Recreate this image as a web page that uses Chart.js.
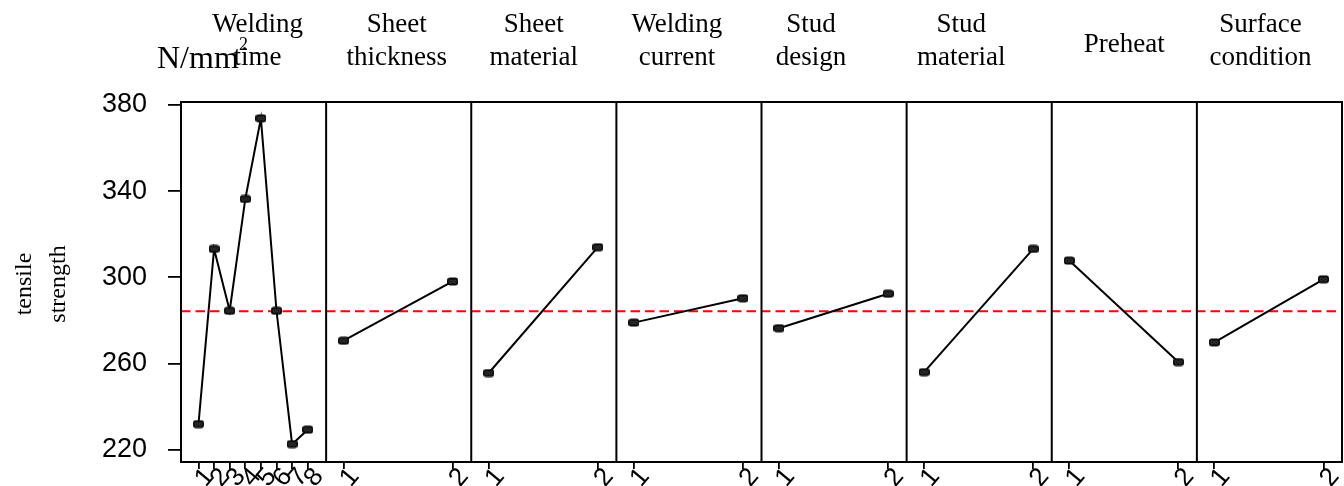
<!DOCTYPE html>
<html><head><meta charset="utf-8">
<script src="https://cdn.jsdelivr.net/npm/chart.js@4.4.1/dist/chart.umd.min.js"></script>
<style>html,body{margin:0;padding:0;background:#fff;}#wrap{width:1344px;height:486px;position:relative;overflow:hidden;}</style>
</head><body><div id="wrap"><canvas id="c" width="1344" height="486"></canvas></div>
<script>
// ---- data ----
const factorTitles = [['Welding','time'],['Sheet','thickness'],['Sheet','material'],['Welding','current'],['Stud','design'],['Stud','material'],['Preheat'],['Surface','condition']];
const weldingTimeLevels = ['1','2','3','4','5','6','7','8'];
const twoLevels = ['1','2'];
const weldingTime = [231.9, 313.2, 284.5, 336.4, 373.8, 284.5, 222.6, 229.3];
const sheetThickness = [270.6, 298.1];
const sheetMaterial = [255.6, 314.0];
const weldingCurrent = [279.0, 290.3];
const studDesign = [276.4, 292.4];
const studMaterial = [256.0, 313.2];
const preheat = [307.8, 260.7];
const surfaceCondition = [269.8, 299.1];
const grandMean = 284.3;
const yTickValues = [220, 260, 300, 340, 380];
const yAxisTitle = ['tensile', 'strength'];
const unitLabel = 'N/mm';
const unitSup = '2';

const seriesValues = [weldingTime, sheetThickness, sheetMaterial, weldingCurrent, studDesign, studMaterial, preheat, surfaceCondition];
const seriesLevels = [weldingTimeLevels, twoLevels, twoLevels, twoLevels, twoLevels, twoLevels, twoLevels, twoLevels];

// ---- style ----
const titleShift = [4, -2, -10, -12, -23, -18, 0, -9];
const marker = document.createElement('canvas');
marker.width = 11; marker.height = 9;
(function(){
  const m = marker.getContext('2d');
  m.fillStyle = '#0d0d0d';
  m.beginPath();
  if (m.roundRect) m.roundRect(0, 0.5, 11, 8, 3); else m.rect(0,0.5,11,8);
  m.fill();
  m.strokeStyle = '#555'; m.lineWidth = 0.7;
  m.beginPath(); m.arc(3.6, 4.5, 1.5, 0, Math.PI*2); m.stroke();
  m.beginPath(); m.arc(7.4, 4.5, 1.5, 0, Math.PI*2); m.stroke();
})();

const scales = {
  y: {
    type: 'linear', position: 'left', min: 214.3, max: 381.4,
    afterBuildTicks: s => { s.ticks = yTickValues.map(v => ({value: v})); },
    ticks: {padding: 21, color: '#000', font: {family: 'Liberation Sans', size: 27}},
    grid: {display: true, drawOnChartArea: false, drawTicks: true, tickLength: 13, color: '#000', lineWidth: 1.8},
    border: {display: false},
    afterFit: s => { s.width = 181; s.paddingTop = 0; s.paddingBottom = 0; }
  }
};
seriesLevels.forEach((lv, i) => {
  scales['x' + i] = {
    type: 'linear', axis: 'x', position: 'bottom', stack: 'panels', stackWeight: 1,
    min: i === 0 ? -0.12 : 0.84, max: i === 0 ? 9.18 : 2.17,
    afterBuildTicks: s => { s.ticks = lv.map((l, k) => ({value: k + 1})); },
    ticks: {
      autoSkip: false, minRotation: 50, maxRotation: 50, labelOffset: 11, padding: -1,
      color: '#000', font: {family: 'Liberation Sans', size: 26, lineHeight: 0.5},
      callback: (v, idx) => lv[idx]
    },
    grid: {display: true, drawOnChartArea: false, drawTicks: true, tickLength: 7, color: '#000', lineWidth: 1.8},
    border: {display: false},
    afterFit: s => { s.height = 24; s.paddingLeft = 0; s.paddingRight = 0; }
  };
});

const datasets = seriesValues.map((vals, i) => ({
  data: vals.map((v, k) => ({x: k + 1, y: v})),
  xAxisID: 'x' + i, yAxisID: 'y',
  borderColor: '#000', borderWidth: 2, fill: false, tension: 0,
  pointStyle: marker, pointRadius: 1, pointHoverRadius: 0, pointBorderWidth: 0,
  clip: 10
}));

const panelPlugin = {
  id: 'panels',
  beforeDatasetsDraw(chart) {
    const {ctx, chartArea: a} = chart;
    const y = chart.scales.y.getPixelForValue(grandMean);
    ctx.save();
    ctx.strokeStyle = '#ff0000'; ctx.lineWidth = 2; ctx.setLineDash([9.5, 5]);
    ctx.beginPath(); ctx.moveTo(a.left, y); ctx.lineTo(a.right, y); ctx.stroke();
    ctx.restore();
  },
  afterDatasetsDraw(chart) {
    const {ctx, chartArea: a} = chart;
    ctx.save();
    ctx.strokeStyle = '#000';
    ctx.lineWidth = 2;
    for (let i = 1; i < seriesValues.length; i++) {
      const x = chart.scales['x' + i].left;
      ctx.beginPath(); ctx.moveTo(x, a.top); ctx.lineTo(x, a.bottom); ctx.stroke();
    }
    ctx.strokeRect(a.left, a.top, a.right - a.left, a.bottom - a.top);
    ctx.restore();
  },
  afterDraw(chart) {
    const {ctx} = chart;
    ctx.save();
    ctx.fillStyle = '#000';
    ctx.textAlign = 'center'; ctx.textBaseline = 'alphabetic';
    ctx.font = '27px "Liberation Serif"';
    factorTitles.forEach((lines, i) => {
      const s = chart.scales['x' + i];
      const cx = (s.left + s.right) / 2 + titleShift[i];
      if (lines.length === 1) ctx.fillText(lines[0], cx, 52);
      else lines.forEach((t, j) => ctx.fillText(t, cx, 32 + 33 * j));
    });
    ctx.textAlign = 'left';
    ctx.font = '32px "Liberation Serif"';
    ctx.fillText(unitLabel, 157, 68);
    ctx.font = '18px "Liberation Serif"';
    ctx.fillText(unitSup, 239, 50);
    ctx.font = '24px "Liberation Serif"';
    ctx.textAlign = 'center';
    const cy = (chart.chartArea.top + chart.chartArea.bottom) / 2 + 2;
    yAxisTitle.forEach((t, j) => {
      ctx.save();
      ctx.translate(31 + 34 * j, cy);
      ctx.rotate(-Math.PI / 2);
      ctx.fillText(t, 0, 0);
      ctx.restore();
    });
    ctx.restore();
  }
};

new Chart(document.getElementById('c'), {
  type: 'line',
  data: {datasets},
  options: {
    responsive: false, animation: false, devicePixelRatio: 1,
    layout: {padding: {top: 102, left: 0, right: 2, bottom: 0}},
    plugins: {legend: {display: false}, tooltip: {enabled: false}},
    scales
  },
  plugins: [panelPlugin]
});
</script></body></html>
